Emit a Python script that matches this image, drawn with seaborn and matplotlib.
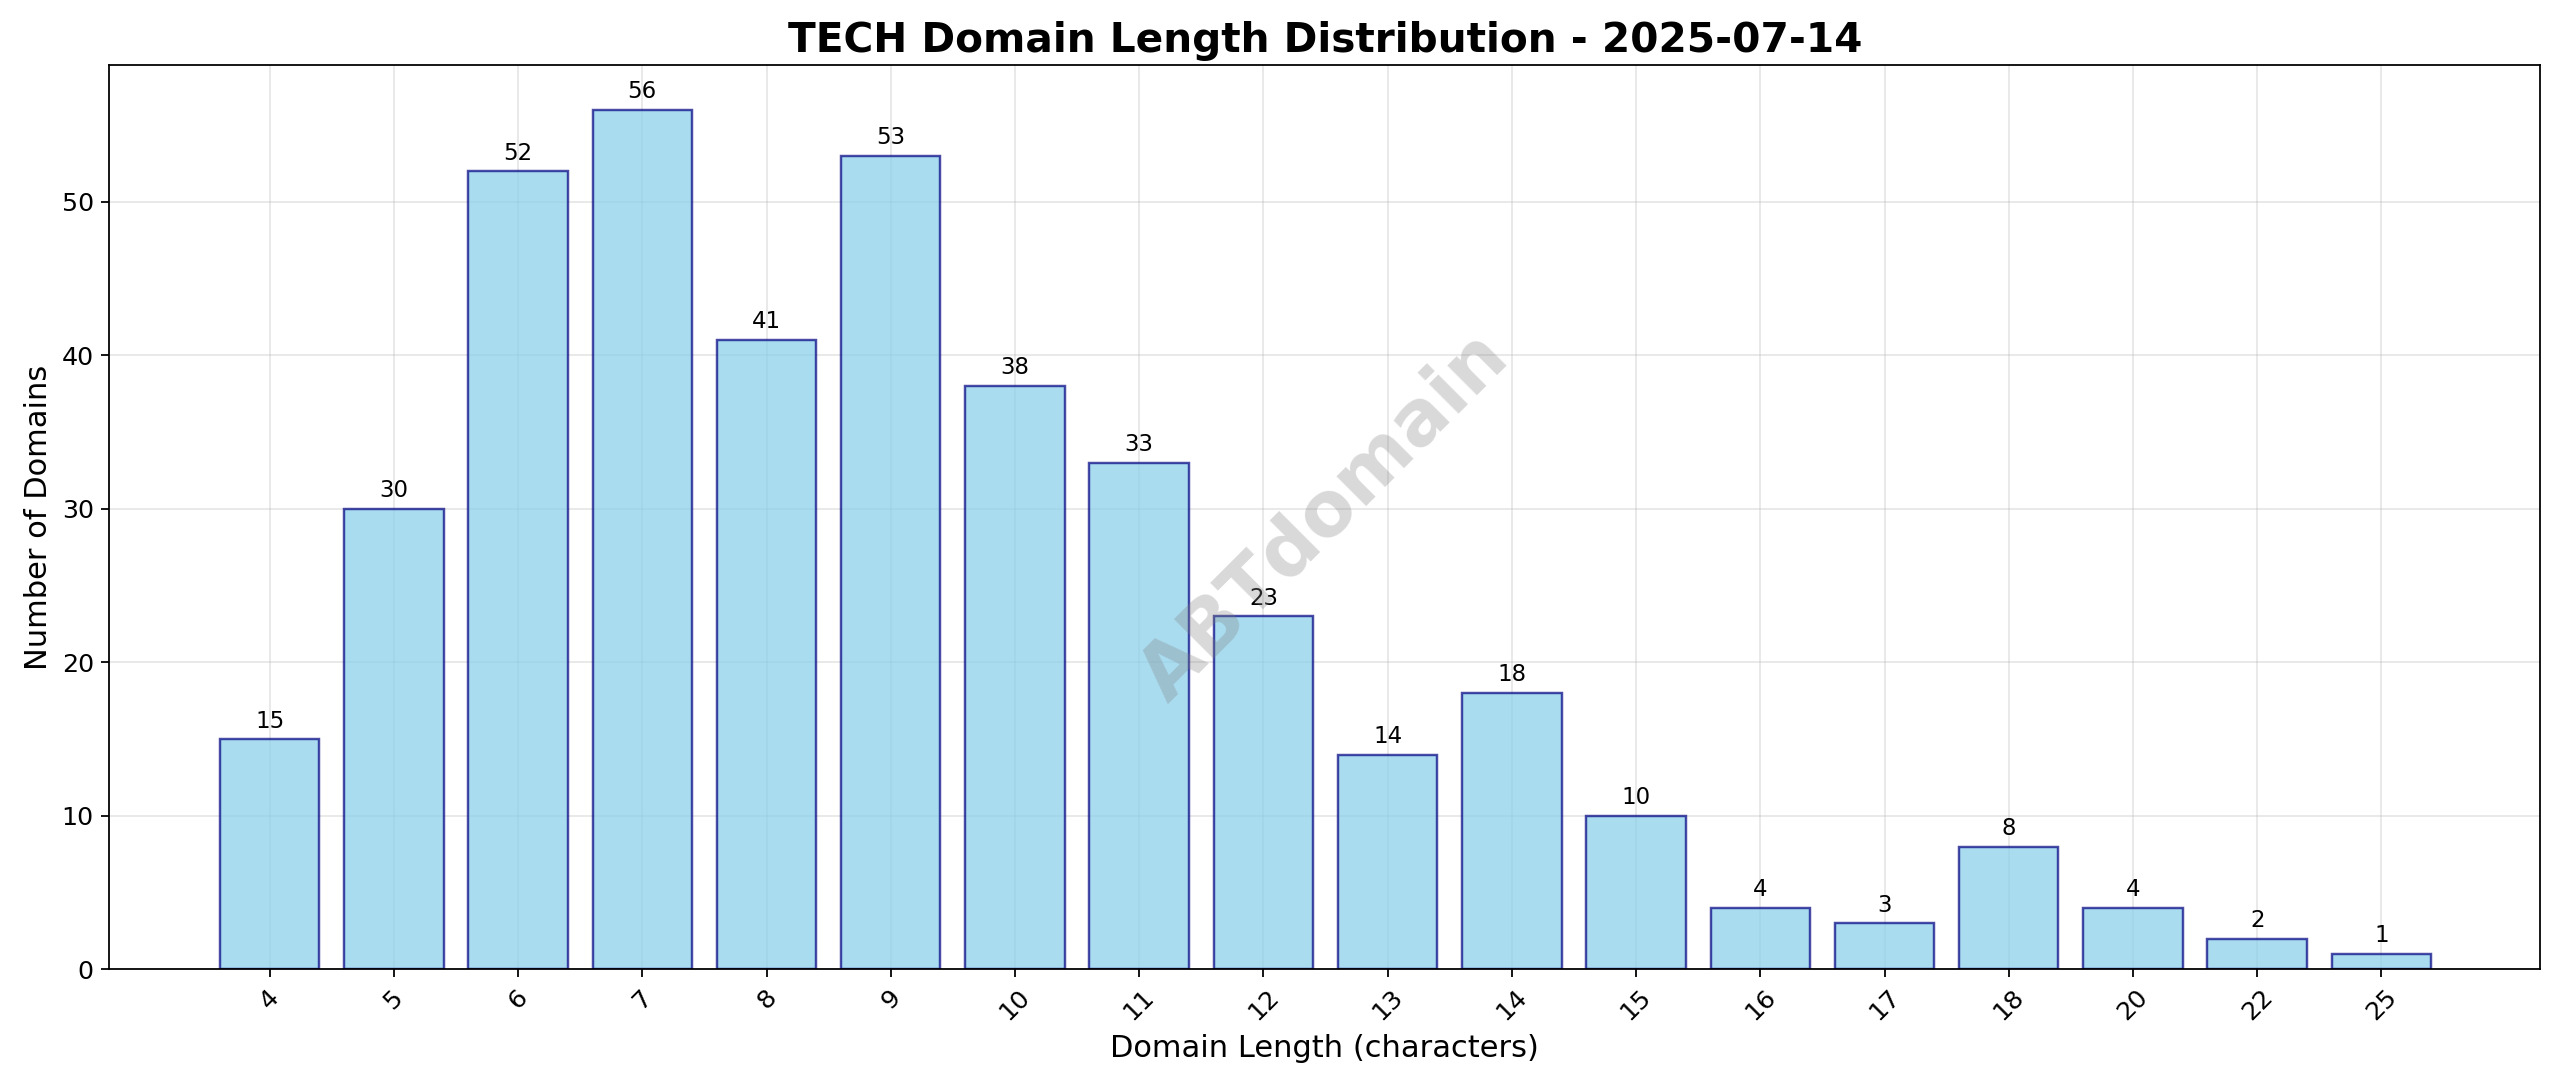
import matplotlib
matplotlib.use("Agg")
import matplotlib.pyplot as plt
import seaborn as sns
import pandas as pd

lengths = ["4","5","6","7","8","9","10","11","12","13","14","15","16","17","18","20","22","25"]
counts = [15,30,52,56,41,53,38,33,23,14,18,10,4,3,8,4,2,1]

k = 1.143
df = pd.DataFrame({"length": lengths, "count": counts})
fig, ax = plt.subplots(figsize=(16, 6.79375), dpi=160)
sns.barplot(data=df, x="length", y="count", order=lengths, color="skyblue",
            saturation=1, width=0.8, edgecolor="navy", linewidth=1.1, alpha=0.7, ax=ax)
for i, c in enumerate(counts):
    ax.annotate(str(c), (i, c), xytext=(0, 3), textcoords="offset points",
                ha="center", va="bottom", fontsize=9 * k)
ax.set_title("TECH Domain Length Distribution - 2025-07-14", fontsize=16 * k, fontweight="bold")
ax.set_xlabel("Domain Length (characters)", fontsize=12 * k)
ax.set_ylabel("Number of Domains", fontsize=12 * k)
ax.grid(True, alpha=0.3)
ax.set_axisbelow(True)
ax.tick_params(axis="x", rotation=45)
ax.tick_params(labelsize=10 * k)
ax.set_xlim(-1.29, 18.28)
ax.set_ylim(0, 58.9)
ax.text(0.5, 0.5, "ABTdomain", transform=ax.transAxes, fontsize=30 * k, fontweight="bold",
        color="gray", alpha=0.3, rotation=45, ha="center", va="center")
W, H = 1568, 666
fig.subplots_adjust(left=67/W, right=1556/W, top=1-40/H, bottom=1-594/H)
fig.savefig("out.png", dpi=160)
